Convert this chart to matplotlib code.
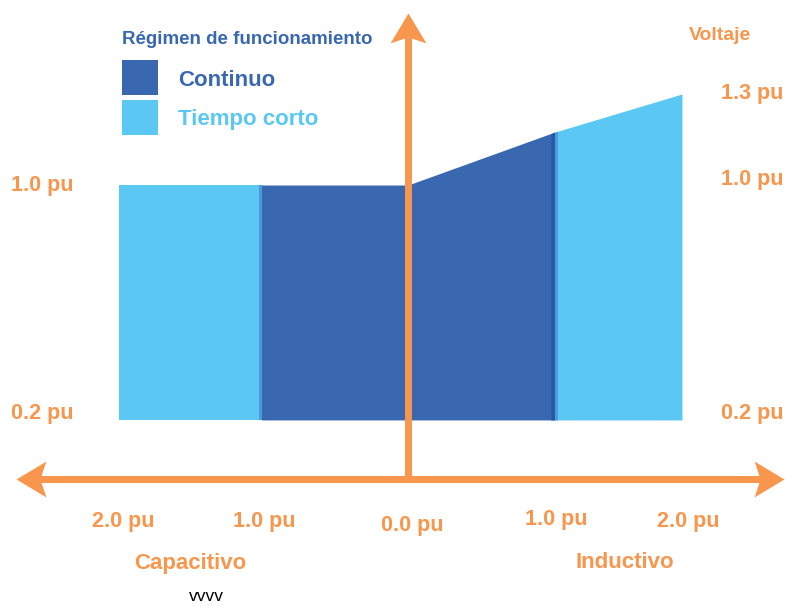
import numpy as np
import matplotlib
matplotlib.use("Agg")
import matplotlib.pyplot as plt
from matplotlib.patches import Rectangle
from matplotlib.path import Path

# datos (pu)
x_cap = [-1.97, -1.0]          # tiempo corto, lado capacitivo
x_cont = [-1.0, 0.0, 1.0]      # regimen continuo
x_ind = [1.0, 1.87]            # tiempo corto, lado inductivo
v_min = 0.2
v_cap_top = [1.0, 1.0]
v_cont_top = [1.0, 1.0, 1.18]
v_ind_top = [1.18, 1.31]

# extremos de los ejes (flechas)
eje_x = [-2.676, 2.567]
eje_v = [0.01, 1.585]

x_labels = ["2.0 pu", "1.0 pu", "0.0 pu", "1.0 pu", "2.0 pu"]
x_label_px = [123, 264, 412, 556, 688]
x_label_py = [522, 522, 526, 520, 522]
v_labels_left = ["1.0 pu", "0.2 pu"]
v_left_py = [185, 413]
v_labels_right = ["1.3 pu", "1.0 pu", "0.2 pu"]
v_right_py = [93, 180, 413]

naranja = '#F7964C'
azul = '#3968B1'
celeste = '#5BC8F4'

W, H = 786, 607
fig = plt.figure(figsize=(W/100, H/100), dpi=100)
ax = fig.add_axes([0, 0, 1, 1])
ax.set_xlim(-2.785, 2.58)
ax.set_ylim(-0.437, 1.630)
ax.axis('off')

# areas de funcionamiento
ax.fill_between(x_cap, v_min, v_cap_top, color=celeste, lw=0)
ax.fill_between(x_cont, v_min, v_cont_top, color=azul, lw=0)
ax.fill_between(x_ind, v_min, v_ind_top, color=celeste, lw=0)
# franja oscura en el borde continuo / tiempo corto
ax.fill_between([0.975, 1.0], v_min, [1.175, 1.18], color='#2A56A6', lw=0)
ax.fill_between([1.0, 1.02], v_min, [1.18, 1.183], color='#4C9BDA', lw=0)
ax.fill_between([-1.02, -1.0], v_min, 1.0, color='#4A9AD8', lw=0)

# puntas de flecha con muesca
def punta(verts):
    return Path(verts + [verts[0]], [Path.MOVETO] + [Path.LINETO] * (len(verts) - 1) + [Path.CLOSEPOLY])

p_der = punta([(0, 0), (-1, 0.6), (-0.8, 0), (-1, -0.6)])
p_izq = punta([(0, 0), (1, 0.6), (0.8, 0), (1, -0.6)])
p_arr = punta([(0, 0), (0.6, -1), (0, -0.8), (-0.6, -1)])

dx = 0.16   # retroceso de la linea hasta la muesca
dy = 0.08
ax.plot([eje_x[0] + dx, eje_x[1] - dx], [0, 0], color=naranja, lw=5, solid_capstyle='butt')
ax.plot([0, 0], [eje_v[0], eje_v[1] - dy], color=naranja, lw=5, solid_capstyle='butt')
ms = 43
ax.plot(eje_x[1], 0, marker=p_der, ms=ms, color=naranja, mew=0, clip_on=False)
ax.plot(eje_x[0], 0, marker=p_izq, ms=ms, color=naranja, mew=0, clip_on=False)
ax.plot(0, eje_v[1], marker=p_arr, ms=ms, color=naranja, mew=0, clip_on=False)

def fx(px):
    return px / W

def fy(py):
    return 1 - py / H

bold = dict(fontweight='bold', family='Liberation Sans')

for lab, px, py in zip(x_labels, x_label_px, x_label_py):
    fig.text(fx(px), fy(py), lab, color=naranja, fontsize=15.5, ha='center', va='center', **bold)
for lab, py in zip(v_labels_left, v_left_py):
    fig.text(fx(42), fy(py), lab, color=naranja, fontsize=15.5, ha='center', va='center', **bold)
for lab, py in zip(v_labels_right, v_right_py):
    fig.text(fx(752), fy(py), lab, color=naranja, fontsize=15.5, ha='center', va='center', **bold)

fig.text(fx(720), fy(35), 'Voltaje', color=naranja, fontsize=14, ha='center', va='center', **bold)
fig.text(fx(190), fy(564), 'Capacitivo', color=naranja, fontsize=16, ha='center', va='center', **bold)
fig.text(fx(625), fy(563), 'Inductivo', color=naranja, fontsize=16, ha='center', va='center', **bold)
fig.text(fx(206), fy(604), 'vvvv', color='black', fontsize=12.5, ha='center', va='bottom', family='Liberation Sans')

# leyenda
fig.text(fx(122), fy(40), 'Régimen de funcionamiento', color=azul, fontsize=13.5, ha='left', va='center', **bold)
fig.patches.append(Rectangle((fx(122), fy(95)), 36/W, 35/H, transform=fig.transFigure, color=azul, lw=0))
fig.patches.append(Rectangle((fx(122), fy(135)), 36/W, 35/H, transform=fig.transFigure, color=celeste, lw=0))
fig.text(fx(178), fy(80), 'Continuo', color=azul, fontsize=16, ha='left', va='center', **bold)
fig.text(fx(178), fy(119), 'Tiempo corto', color=celeste, fontsize=16, ha='left', va='center', **bold)

plt.savefig('out.png', dpi=100)
